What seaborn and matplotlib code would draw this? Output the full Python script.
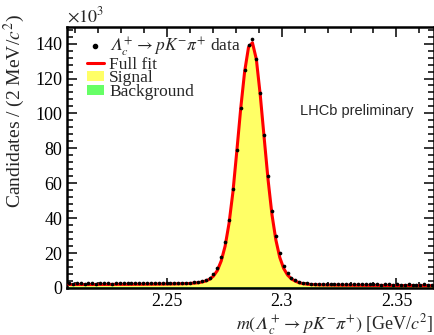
import numpy as np
import pandas as pd
import matplotlib
matplotlib.use('Agg')
import matplotlib.pyplot as plt
import seaborn as sns
from matplotlib.lines import Line2D
from matplotlib.patches import Patch
from matplotlib.ticker import MultipleLocator

# binning of the mass histogram
bin_lo = 2.20655
bin_w = 0.0017
n_bins = 94

# candidates per bin (x10^3)
data_left = [2.6, 2.5, 2.6, 2.6, 2.5, 2.6, 2.6, 2.5, 2.6, 2.6, 2.6, 2.5, 2.6, 2.7, 2.6, 2.6,
             2.6, 2.7, 2.6, 2.7, 2.7, 2.6, 2.7, 2.7, 2.7, 2.8, 2.7, 2.8, 2.8, 2.9, 2.9]
data_rise = [3.0, 3.2, 3.5, 4.0, 4.6, 5.6, 8.0, 11.6, 17.6, 26.6, 39.0, 56.6, 78.8, 103.1, 124.9, 139.4]
data_peak = [142.7]
data_fall = [131.4, 111.7, 87.6, 64.3, 44.3, 30.0, 19.9, 12.8, 8.4, 6.0, 4.5, 3.6, 3.0]
data_right = [2.7, 2.5, 2.4, 2.3, 2.3, 2.2, 2.2, 2.3, 2.2, 2.2, 2.1, 2.2, 2.2, 2.1, 2.1, 2.2, 2.1,
              2.1, 2.1, 2.0, 2.1, 2.1, 2.0, 2.1, 2.0, 2.0, 2.1, 2.0, 2.0, 2.0, 2.1, 2.0, 2.0]

# full fit evaluated at the bin centres
fit_left = [2.0, 2.0, 2.0, 2.0, 2.0, 2.0, 2.0, 2.0, 2.05, 2.05, 2.05, 2.05, 2.1, 2.1, 2.1, 2.1,
            2.1, 2.15, 2.15, 2.15, 2.2, 2.2, 2.2, 2.25, 2.25, 2.3, 2.3, 2.35, 2.4, 2.45, 2.5]
fit_rise = [2.6, 2.8, 3.0, 3.4, 4.0, 5.0, 6.8, 10.0, 15.5, 24.0, 37.0, 55.0, 78.5, 103.0, 124.0, 138.0]
fit_peak = [140.5]
fit_fall = [131.0, 110.5, 86.0, 62.0, 42.0, 27.5, 17.5, 11.2, 7.4, 5.2, 3.9, 3.0, 2.5]
fit_right = [2.2, 2.0, 1.9, 1.8, 1.75, 1.7, 1.7, 1.65, 1.65, 1.6, 1.6, 1.6, 1.55, 1.55, 1.55, 1.5, 1.5,
             1.5, 1.5, 1.45, 1.45, 1.45, 1.45, 1.4, 1.4, 1.4, 1.4, 1.4, 1.35, 1.35, 1.35, 1.35, 1.35]

# background component (linear), at the two ends of the range
bkg_mass = [2.20655, 2.36635]
bkg_vals = [0.9, 0.6]

mass = bin_lo + (np.arange(n_bins) + 0.5) * bin_w
df = pd.DataFrame({
    'mass': mass,
    'counts': data_left + data_rise + data_peak + data_fall + data_right,
    'fit': fit_left + fit_rise + fit_peak + fit_fall + fit_right,
})

sns.set_style('ticks')
plt.rcParams['font.family'] = ['Liberation Serif', 'DejaVu Serif']
plt.rcParams['mathtext.fontset'] = 'stix'

fig = plt.figure(figsize=(4.35, 3.35), dpi=100)
ax = fig.add_axes([67 / 435, 1 - 288 / 335, (434 - 67) / 435, (288 - 27) / 335])

ax.fill_between(df['mass'], 0, df['fit'], color='#ffff66', lw=0, zorder=1)
ax.fill_between(bkg_mass, 0, bkg_vals, color='#66ff66', lw=0, zorder=2)
sns.lineplot(data=df, x='mass', y='fit', color='red', lw=2.2, ax=ax, zorder=3)
sns.scatterplot(data=df, x='mass', y='counts', color='black', s=7, linewidth=0, ax=ax, zorder=4)

ax.set_xlim(2.20655, 2.36635)
ax.set_ylim(0, 149.5)
ax.xaxis.set_major_locator(MultipleLocator(0.05))
ax.xaxis.set_minor_locator(MultipleLocator(0.01))
ax.yaxis.set_major_locator(MultipleLocator(20))
ax.yaxis.set_minor_locator(MultipleLocator(4))
ax.set_xticks([2.25, 2.3, 2.35], ['2.25', '2.3', '2.35'])
ax.tick_params(which='both', direction='in', top=True, right=True, width=1.1, labelsize=13, colors='black')
ax.tick_params(which='major', length=7)
ax.tick_params(which='minor', length=4)
for s in ax.spines.values():
    s.set_linewidth(1.8)
    s.set_color('black')

lam = '\U0001D6EC'  # italic capital lambda
ax.set_xlabel(r'$m(\mathrm{' + lam + r'}_c^+ \rightarrow pK^{-}\pi^{+})$ [GeV/$c^2$]', fontsize=13,
              loc='right', labelpad=1.5)
ax.set_ylabel('Candidates / (2 MeV/$c^2$)', fontsize=14, loc='bottom')
ax.yaxis.set_label_coords(-0.11, 0.305)
ax.text(0.0, 1.005, r'$\times10^{3}$', transform=ax.transAxes, fontsize=13, ha='left', va='bottom')
ax.text(0.945, 0.68, 'LHCb preliminary', transform=ax.transAxes, fontsize=10.5,
        family='Liberation Sans', ha='right', va='center')

handles = [
    Line2D([], [], marker='o', color='black', ls='none', markersize=3),
    Line2D([], [], color='red', lw=2.2),
    Patch(facecolor='#ffff66', edgecolor='none'),
    Patch(facecolor='#66ff66', edgecolor='none'),
]
labels = [r'$\mathrm{' + lam + r'}_c^+ \rightarrow pK^{-}\pi^{+}$ data', 'Full fit', 'Signal', 'Background']
ax.legend(handles, labels, loc='upper left', bbox_to_anchor=(0.035, 0.995), frameon=False,
          fontsize=12.5, handlelength=1.0, handleheight=0.5, labelspacing=-0.12,
          handletextpad=0.3, borderaxespad=0)

plt.savefig('out.png', dpi=100)
